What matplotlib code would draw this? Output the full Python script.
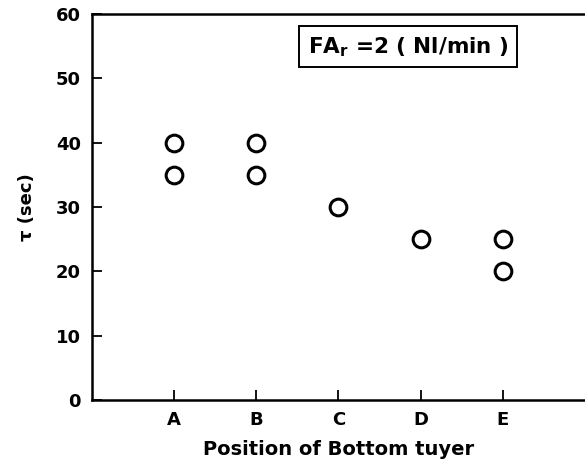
import matplotlib
import matplotlib.pyplot as plt

matplotlib.use("Agg")

# tuyere positions (1..5 -> A..E) and measured mixing time
positions = [1, 1, 2, 2, 3, 4, 5, 5]
tau_sec = [40, 35, 40, 35, 30, 25, 25, 20]
tick_labels = ["A", "B", "C", "D", "E"]
y_ticks = [0, 10, 20, 30, 40, 50, 60]

plt.rcParams["font.family"] = "DejaVu Sans"
plt.rcParams["font.weight"] = "bold"

fig = plt.figure(figsize=(5.85, 4.68), dpi=100)
ax = fig.add_axes([0.157, 0.145, 0.843, 0.825])

ax.plot(positions, tau_sec, linestyle="none", marker="o", markersize=12,
        markerfacecolor="white", markeredgecolor="black", markeredgewidth=2.2)

ax.set_xlim(0, 6)
ax.set_ylim(0, 60)
ax.set_xticks(range(1, 6))
ax.set_xticklabels(tick_labels, fontsize=13, fontweight="bold")
ax.set_yticks(y_ticks)
ax.set_yticklabels([str(v) for v in y_ticks], fontsize=13, fontweight="bold")
ax.tick_params(direction="in", length=7, width=1.3, pad=8)
for side in ax.spines.values():
    side.set_linewidth(1.8)
ax.spines["right"].set_visible(False)

ax.set_xlabel("Position of Bottom tuyer", fontsize=14, fontweight="bold",
              labelpad=8)
ax.set_ylabel("τ (sec)", fontsize=13, fontweight="bold", labelpad=14)

ax.text(0.438, 0.915, r"$\mathbf{FA_r}$ =2 ( Nl/min )", transform=ax.transAxes,
        fontsize=15.5, fontweight="bold", va="center", ha="left",
        bbox=dict(boxstyle="square,pad=0.4", facecolor="white",
                  edgecolor="black", linewidth=1.4))

fig.savefig("out.png", dpi=100)
plt.close(fig)
